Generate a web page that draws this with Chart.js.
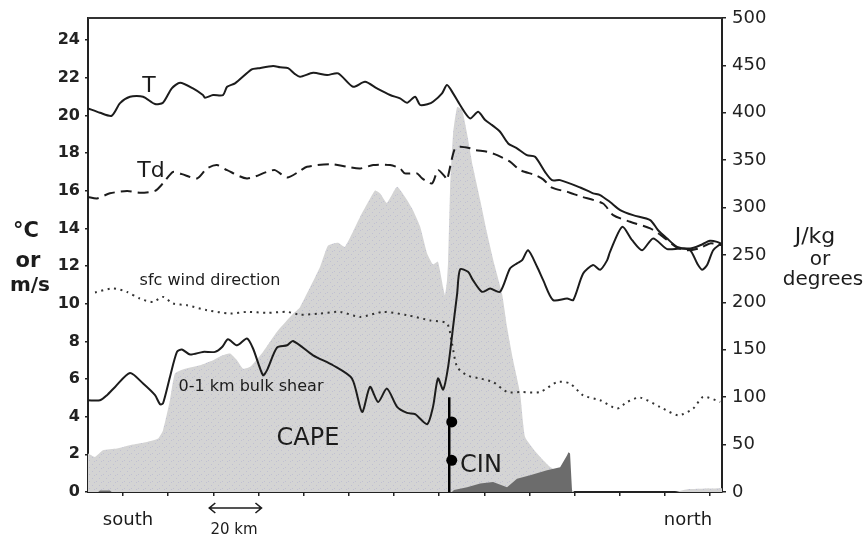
<!DOCTYPE html>
<html><head><meta charset="utf-8">
<script src="https://cdn.jsdelivr.net/npm/chart.js@4/dist/chart.umd.min.js"></script>
<style>html,body{margin:0;padding:0;background:#fff}</style>
</head><body>
<canvas id="c" width="864" height="535"></canvas>
<script>
// ---- axis ticks ----
const xTicksKm = [0,20,40,60,80,100,120,140,160,180,200,220,240,260];
const leftTicks = [0,2,4,6,8,10,12,14,16,18,20,22,24];
const rightTicks = [0,50,100,150,200,250,300,350,400,450,500];

// ---- T (°C) ----
const tKm  = [-15.5,-10.2,-5.0,-1.3,3.1,8.9,14.2,17.7,21.6,25.3,31.0,35.4,36.3,39.9,44.3,46.1,49.6,57.0,59.8,66.5,69.6,73.1,76.2,78.4,84.2,90.4,95.3,101.9,107.2,112.5,118.3,122.7,125.8,129.4,131.6,135.1,137.3,141.3,143.5,146.2,149.3,153.7,157.3,160.4,163.5,167.0,170.6,174.5,178.9,182.5,186.9,190.0,193.6,202.5,208.2,211.3,215.7,220.2,225.9,233.5,237.0,241.0,245.4,251.2,255.6,260.0,263.1,265.3];
const tVal = [20.37,20.14,19.98,20.65,20.99,20.99,20.6,20.67,21.43,21.73,21.43,21.08,20.94,21.08,21.08,21.52,21.7,22.44,22.5,22.62,22.55,22.51,22.19,22.05,22.26,22.14,22.23,21.52,21.78,21.43,21.08,20.9,20.67,20.99,20.55,20.6,20.72,21.17,21.61,21.17,20.55,19.84,20.19,19.75,19.48,19.13,18.51,18.25,17.89,17.8,17.0,16.56,16.56,16.17,15.86,15.77,15.4,14.97,14.7,14.44,13.9,13.46,13.02,12.93,13.1,13.34,13.28,13.16];

// ---- Td (°C) ----
const tdKm  = [-15.5,-11.5,-5.8,1.8,7.5,14.2,17.7,22.2,26.1,32.8,37.2,41.6,46.1,54.9,63.8,67.3,72.7,78.4,81.5,91.7,99.2,105.0,110.8,118.3,122.7,124.9,130.2,132.5,136.9,139.5,142.6,143.5,145.7,147.1,149.3,153.7,155.9,161.3,165.7,171.4,175.9,182.5,186.1,190.0,196.7,202.5,212.6,217.1,224.6,233.5,239.2,245.4,249.9,255.6,260.0,265.3];
const tdVal = [15.67,15.59,15.86,15.98,15.89,15.99,16.39,17.0,16.88,16.65,17.18,17.36,17.09,16.65,17.0,17.09,16.7,17.05,17.27,17.41,17.27,17.18,17.36,17.36,17.18,16.92,16.92,16.65,16.39,17.09,16.74,16.57,17.71,18.25,18.33,18.25,18.16,18.07,17.89,17.54,17.09,16.83,16.6,16.16,15.94,15.7,15.32,14.7,14.35,14.0,13.55,12.98,12.84,12.95,13.2,13.1];

// ---- 0-1 km bulk shear (m/s) ----
const shearKm  = [-15.5,-10.2,-7.1,-3.5,3.1,8.9,14.2,16.4,17.7,20.8,23.9,26.1,29.7,35.4,40.8,43.9,46.5,50.5,54.9,57.6,62.0,63.8,68.2,72.7,75.3,84.2,93.0,101.4,105.9,109.4,113.0,116.9,121.4,125.8,129.4,134.7,137.3,139.5,141.8,144.0,146.2,148.0,149.3,152.8,155.0,159.0,162.6,167.0,171.4,174.5,176.8,179.4,183.4,186.1,190.5,196.7,199.4,203.8,208.2,211.3,214.4,215.7,221.1,225.5,229.9,234.8,241.0,246.8,251.2,254.3,256.5,258.7,261.4,264.9];
const shearVal = [4.87,4.87,5.14,5.58,6.32,5.76,5.14,4.66,4.70,6.11,7.44,7.57,7.3,7.44,7.44,7.7,8.11,7.79,8.15,7.62,6.2,6.47,7.67,7.79,8.02,7.26,6.73,6.03,4.25,5.58,4.78,5.49,4.52,4.2,4.13,3.6,4.52,6.03,5.44,6.64,8.77,10.54,11.82,11.69,11.25,10.63,10.8,10.63,11.87,12.14,12.31,12.84,11.96,11.25,10.19,10.28,10.19,11.6,12.05,11.8,12.3,12.75,14.08,13.37,12.84,13.46,12.9,12.93,12.84,12.14,11.8,12.05,12.84,13.2];

// ---- sfc wind direction (degrees) ----
const windKm  = [-12.4,-4.4,1.8,7.5,13.3,17.7,22.2,28.4,37.2,47.4,54.9,63.8,72.7,78.4,87.3,96.1,105.0,115.2,125.8,136.0,143.5,145.7,148.0,152.4,158.2,163.9,170.1,175.9,184.7,192.3,198.0,203.8,211.3,218.8,223.3,229.0,237.9,245.9,252.5,257.0,264.5];
const windVal = [210.5,214.7,211,204,200.5,205.8,198.8,197,191.8,188.3,190,189,190,187,188.3,190,184.7,190,186.5,181,177.7,156.6,132,123,119.7,116,105.5,105.5,105.5,116,114.4,102,96.8,88,95,99.6,89.7,81,88,100.3,95];

// ---- CAPE (J/kg) ----
const capeKm  = [-15.5,-12.4,-8.9,-2.7,4.4,10.6,15.5,17.7,20.8,23.0,27.5,34.1,39.9,43.9,47.4,50.5,53.2,56.3,62.0,68.2,75.3,78.4,87.3,90.8,95.3,98.3,105.0,111.6,113.9,116.9,121.4,125.8,128.5,131.6,134.7,137.3,139.5,141.8,142.6,143.5,144.0,144.9,146.2,148.0,150.2,152.4,155.0,158.2,161.3,164.5,167.9,170.1,172.8,175.9,178.1,183.4,186.1,189.2,193.6,196.7,198.9,200.0,244.0,250.0,265.3];
const capeVal = [40.5,37,44,45.8,50,52.8,56.4,65,96.8,125,130,133.7,139,144,146,139,130,132,147.8,169,188,195,237.5,260,263,258.6,290,318,315,305,322,308,297,280,251.6,240,243,216,207.6,223,244,322,378,406,403,378,343,308,272.7,240,209,174,139,104,58,40.5,33.5,26.4,19.4,12,2,0,0,3,4];

// ---- CIN (J/kg) ----
const cinKm  = [-15.5,-11.0,-10.2,-5.8,-5.0,145.7,146.6,152.4,158.2,163.9,170.1,174.5,180.3,187.8,193.6,196.7,197.3,198.0,198.9,265.3];
const cinVal = [0,0,1.5,1.5,0,0,2,5,9,10.5,5,14,17.6,23,26,38.7,42,40.5,0,0];

// ---- front marker (km, °C) ----
const markerKm = [144.5, 144.5];
const markerVal = [0, 5.03];
const dotKm = [145.6, 145.6];
const dotVal = [3.72, 1.68];

const pts = (xs, ys) => xs.map((x, i) => ({x: x, y: ys[i]}));
const FONT = "'DejaVu Sans', sans-serif";
const INK = '#1c1c1c';

const canvas = document.getElementById('c');
const ctx0 = canvas.getContext('2d');
function capePattern() {
  const c = document.createElement('canvas'); c.width = 7; c.height = 7;
  const g = c.getContext('2d');
  g.fillStyle = '#d4d4d4'; g.fillRect(0, 0, 7, 7);
  g.fillStyle = '#c0c0d2'; g.fillRect(1, 2, 1, 1); g.fillRect(5, 5, 1, 1); g.fillRect(3, 6, 1, 1);
  return ctx0.createPattern(c, 'repeat');
}

const annot = {
  id: 'annot',
  afterDraw(chart) {
    const ctx = chart.ctx, a = chart.chartArea, xs = chart.scales.x;
    ctx.save();
    ctx.strokeStyle = '#333'; ctx.lineWidth = 2;
    ctx.beginPath(); ctx.moveTo(a.left, a.top); ctx.lineTo(a.right, a.top); ctx.stroke();
    ctx.fillStyle = INK;
    ctx.textBaseline = 'alphabetic';
    const t = (s, x, y, size, align, weight) => {
      ctx.font = (weight || 'normal') + ' ' + size + 'px ' + FONT;
      ctx.textAlign = align || 'center';
      ctx.fillText(s, x, y);
    };
    t('T', 149, 92, 22);
    t('Td', 151, 177, 22);
    t('sfc wind direction', 210, 285, 16);
    t('0-1 km bulk shear', 251, 391, 16);
    t('CAPE', 308, 445, 24);
    t('CIN', 481, 472, 24);
    t('south', 128, 525, 18);
    t('north', 688, 525, 18);
    t('20 km', 234, 534, 15);
    t('°C', 26, 237, 21, 'center', 'bold');
    t('or', 28, 267, 21, 'center', 'bold');
    t('m/s', 30, 291, 20, 'center', 'bold');
    t('J/kg', 815, 243, 22);
    t('or', 820, 265, 20);
    t('degrees', 823, 285, 20);
    // 20 km double arrow
    const x1 = xs.getPixelForValue(40) - 4, x2 = xs.getPixelForValue(60) + 3, y = 508;
    ctx.strokeStyle = INK; ctx.lineWidth = 1.6;
    ctx.beginPath();
    ctx.moveTo(x1, y); ctx.lineTo(x2, y);
    ctx.moveTo(x1 + 6, y - 5); ctx.lineTo(x1, y); ctx.lineTo(x1 + 6, y + 5);
    ctx.moveTo(x2 - 6, y - 5); ctx.lineTo(x2, y); ctx.lineTo(x2 - 6, y + 5);
    ctx.stroke();
    ctx.restore();
  }
};

const lineBase = {pointRadius: 0, fill: false, tension: 0.25, borderColor: INK, borderWidth: 2};

new Chart(canvas, {
  type: 'line',
  data: {
    datasets: [
      {label: 'front', data: pts(markerKm, markerVal), yAxisID: 'yL', borderColor: '#000', borderWidth: 2.5, pointRadius: 0, tension: 0, order: 0},
      {label: 'dots', data: pts(dotKm, dotVal), yAxisID: 'yL', showLine: false, pointRadius: 5.5, pointBackgroundColor: '#000', pointBorderWidth: 0, order: 0},
      Object.assign({label: 'T', data: pts(tKm, tVal), yAxisID: 'yL', order: 1}, lineBase),
      Object.assign({label: 'Td', data: pts(tdKm, tdVal), yAxisID: 'yL', order: 1, borderDash: [11, 6]}, lineBase),
      Object.assign({label: 'shear', data: pts(shearKm, shearVal), yAxisID: 'yL', order: 1}, lineBase),
      Object.assign({label: 'wind', data: pts(windKm, windVal), yAxisID: 'yR', order: 2}, lineBase, {borderDash: [2, 4.5], borderColor: '#333', borderWidth: 2}),
      {label: 'CIN', data: pts(cinKm, cinVal), yAxisID: 'yR', fill: 'origin', backgroundColor: '#6c6c6c', borderColor: 'rgba(0,0,0,0)', borderWidth: 0, pointRadius: 0, tension: 0, order: 4},
      {label: 'CAPE', data: pts(capeKm, capeVal), yAxisID: 'yR', fill: 'origin', backgroundColor: capePattern(), borderColor: 'rgba(0,0,0,0)', borderWidth: 0, pointRadius: 0, tension: 0.15, order: 5}
    ]
  },
  options: {
    responsive: false,
    animation: false,
    devicePixelRatio: 1,
    layout: {padding: {top: 18, left: 0, right: 0, bottom: 0}},
    plugins: {legend: {display: false}, tooltip: {enabled: false}},
    scales: {
      x: {
        type: 'linear', min: -15.5, max: 265.3, z: 1,
        afterBuildTicks: s => { s.ticks = xTicksKm.map(v => ({value: v})); },
        afterFit: s => { s.height = 43; },
        ticks: {display: false},
        grid: {display: true, drawOnChartArea: false, drawTicks: true, tickLength: 4, color: '#222', lineWidth: 1.5},
        border: {display: true, color: '#222', width: 2}
      },
      yL: {
        type: 'linear', position: 'left', min: 0, max: 25.17, z: 1,
        afterBuildTicks: s => { s.ticks = leftTicks.map(v => ({value: v})); },
        afterFit: s => { s.width = 88; },
        ticks: {padding: 5, color: '#222', font: {family: FONT, size: 16, weight: 'bold'}},
        grid: {display: true, drawOnChartArea: false, drawTicks: true, tickLength: 3, color: '#222', lineWidth: 1.5},
        border: {display: true, color: '#222', width: 2}
      },
      yR: {
        type: 'linear', position: 'right', min: 0, max: 500, z: 1,
        afterBuildTicks: s => { s.ticks = rightTicks.map(v => ({value: v})); },
        afterFit: s => { s.width = 142; },
        ticks: {padding: 6, color: '#222', font: {family: FONT, size: 18}},
        grid: {display: true, drawOnChartArea: false, drawTicks: true, tickLength: 4, color: '#222', lineWidth: 1.5},
        border: {display: true, color: '#222', width: 2}
      }
    }
  },
  plugins: [annot]
});
</script>
</body></html>
